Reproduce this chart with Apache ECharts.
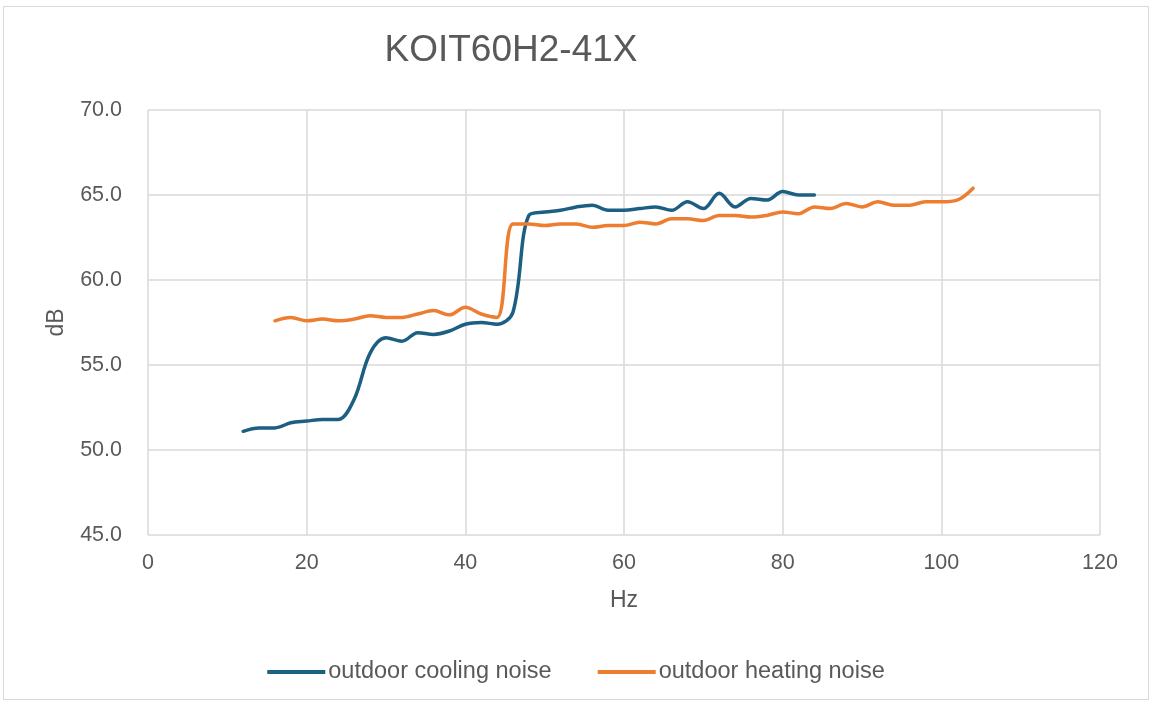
<!DOCTYPE html>
<html>
<head>
<meta charset="utf-8">
<script src="https://cdn.jsdelivr.net/npm/echarts@6/dist/echarts.min.js"></script>
<style>
  html, body { margin: 0; padding: 0; background: #fff; }
  #frame { position: absolute; left: 3px; top: 6px; width: 1146px; height: 694px; border: 1px solid #d9d9d9; box-sizing: border-box; }
  #chart { position: absolute; left: 0; top: 0; width: 1152px; height: 704px; }
</style>
</head>
<body>
<div id="frame"></div>
<div id="chart"></div>
<script>
// 频率 (Hz) 与噪声 (dB)
const coolingHz = [12, 14, 16, 18, 20, 22, 24, 26, 28, 30, 32, 34, 36, 38, 40, 42, 44, 46, 48, 50,
  52, 54, 56, 58, 60, 62, 64, 66, 68, 70, 72, 74, 76, 78, 80, 82, 84]
const coolingDb = [51.1, 51.3, 51.3, 51.6, 51.7, 51.8, 51.8, 53.0, 55.7, 56.6, 56.4, 56.9, 56.8, 57.0, 57.4, 57.5, 57.4, 58.1, 63.8, 64.0,
  64.1, 64.3, 64.4, 64.1, 64.1, 64.2, 64.3, 64.1, 64.6, 64.2, 65.1, 64.3, 64.8, 64.7, 65.2, 65.0, 65.0]

const heatingHz = [16, 18, 20, 22, 24, 26, 28, 30, 32, 34, 36, 38, 40, 42, 44, 46, 48, 50, 52, 54,
  56, 58, 60, 62, 64, 66, 68, 70, 72, 74, 76, 78, 80, 82, 84, 86, 88, 90, 92, 94,
  96, 98, 100, 102, 104]
const heatingDb = [57.6, 57.8, 57.6, 57.7, 57.6, 57.7, 57.9, 57.8, 57.8, 58.0, 58.2, 57.95, 58.4, 58.0, 57.8, 63.3, 63.3, 63.2, 63.3, 63.3,
  63.1, 63.2, 63.2, 63.4, 63.3, 63.6, 63.6, 63.5, 63.8, 63.8, 63.7, 63.8, 64.0, 63.9, 64.3, 64.2, 64.5, 64.3, 64.6, 64.4,
  64.4, 64.6, 64.6, 64.7, 65.4]

const xTicks = [0, 20, 40, 60, 80, 100, 120]
const yTicks = [45, 50, 55, 60, 65, 70]

const seriesNames = ['outdoor cooling noise', 'outdoor heating noise']
const textColor = '#595959'
const gridColor = '#d9d9d9'
const font = '"Liberation Sans", Arial, sans-serif'

const toPairs = (xs, ys) => xs.map((x, i) => [x, ys[i]])

const myChart = echarts.init(document.getElementById('chart'))

const option = {
  animation: false,
  title: {
    text: 'KOIT60H2-41X',
    left: 506,
    textAlign: 'center',
    top: 27,
    textStyle: { fontFamily: font, fontSize: 37, fontWeight: 'normal', color: textColor }
  },
  legend: {
    bottom: 15,
    left: 'center',
    itemWidth: 58,
    itemHeight: 4,
    itemGap: 46,
    icon: 'rect',
    textStyle: { fontFamily: font, fontSize: 23.5, color: textColor, padding: [0, 0, 0, -2] },
    data: seriesNames
  },
  grid: { left: 148, right: 52, top: 110, bottom: 169 },
  xAxis: {
    type: 'value',
    min: xTicks[0],
    max: xTicks[xTicks.length - 1],
    interval: 20,
    name: 'Hz',
    nameLocation: 'middle',
    nameGap: 54,
    nameTextStyle: { fontFamily: font, fontSize: 23, color: textColor },
    axisLine: { show: false },
    axisTick: { show: false },
    axisLabel: { fontFamily: font, fontSize: 21.5, color: textColor, margin: 17 },
    splitLine: { show: true, lineStyle: { color: gridColor, width: 1.5 } }
  },
  yAxis: {
    type: 'value',
    min: yTicks[0],
    max: yTicks[yTicks.length - 1],
    interval: 5,
    name: 'dB',
    nameLocation: 'middle',
    nameGap: 80,
    nameRotate: 90,
    nameTextStyle: { fontFamily: font, fontSize: 23, color: textColor },
    axisLine: { show: false },
    axisTick: { show: false },
    axisLabel: { fontFamily: font, fontSize: 21.5, color: textColor, margin: 26, formatter: v => v.toFixed(1) },
    splitLine: { show: true, lineStyle: { color: gridColor, width: 1.5 } }
  },
  series: [
    {
      name: seriesNames[0],
      type: 'line',
      data: toPairs(coolingHz, coolingDb),
      smooth: 0.35,
      showSymbol: false,
      lineStyle: { width: 3.5, color: '#1c5f82', cap: 'round' },
      itemStyle: { color: '#1c5f82' }
    },
    {
      name: seriesNames[1],
      type: 'line',
      data: toPairs(heatingHz, heatingDb),
      smooth: 0.35,
      showSymbol: false,
      lineStyle: { width: 3.5, color: '#ed7d31', cap: 'round' },
      itemStyle: { color: '#ed7d31' }
    }
  ]
}

myChart.setOption(option)
</script>
</body>
</html>
